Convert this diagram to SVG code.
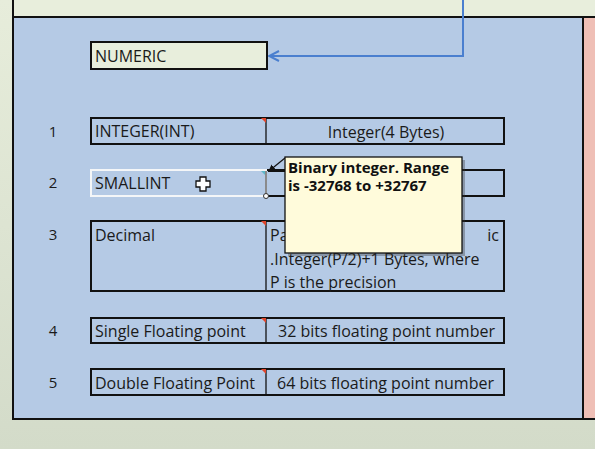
<svg xmlns="http://www.w3.org/2000/svg" width="595" height="449" viewBox="0 0 595 449">
<defs>
<linearGradient id="bg" x1="0" y1="0" x2="0" y2="1">
<stop offset="0" stop-color="#e7eddb"/>
<stop offset="1" stop-color="#d3dbc9"/>
</linearGradient>
<marker id="open" viewBox="0 0 12 12" refX="11" refY="6" markerWidth="12" markerHeight="12" markerUnits="userSpaceOnUse" orient="auto">
<path d="M1,1 L11,6 L1,11" fill="none" stroke="#4a7fcf" stroke-width="2"/>
</marker>
<marker id="tip" viewBox="0 0 8 8" refX="7" refY="4" markerWidth="7" markerHeight="7" markerUnits="userSpaceOnUse" orient="auto">
<path d="M0,0 L8,4 L0,8 Z" fill="#111"/>
</marker>
</defs>
<style>
.t{font-family:"Open Sans","Liberation Sans",sans-serif;font-size:16px;fill:#1a1a1a}
.n{font-family:"Open Sans","Liberation Sans",sans-serif;font-size:15px;fill:#1a1a1a;text-anchor:middle}
.c{font-family:"Open Sans","Liberation Sans",sans-serif;font-size:16px;fill:#1a1a1a;text-anchor:middle}
.b{font-family:"Open Sans","Liberation Sans",sans-serif;font-size:15px;font-weight:bold;fill:#111}
.cell{fill:none;stroke:#111;stroke-width:2}
.div{stroke:#111;stroke-width:1.3}
.flag{fill:#e0452a}
</style>
<rect x="0" y="0" width="595" height="449" fill="url(#bg)"/>
<rect x="13" y="-2" width="584" height="19" fill="#e8eedc" stroke="#111" stroke-width="2"/>
<rect x="13" y="17" width="570" height="402" fill="#b5cae5" stroke="#111" stroke-width="2"/>
<rect x="583" y="17" width="14" height="402" fill="#efbfb6" stroke="#111" stroke-width="2"/>

<g id="numeric">
<rect x="91" y="42" width="176" height="27" fill="#e8eedc" stroke="#111" stroke-width="2"/>
<text class="t" x="95" y="62">NUMERIC</text>
</g>

<g id="connectors">
<path d="M463,0 V56 H269" fill="none" stroke="#4a7fcf" stroke-width="2" marker-end="url(#open)"/>
</g>

<g id="row1">
<text class="n" x="53" y="137">1</text>
<rect class="cell" x="91" y="118" width="413" height="26"/>
<line class="div" x1="266" y1="118" x2="266" y2="144"/>
<path class="flag" d="M261,118 H266 V123 Z"/>
<text class="t" x="95" y="137">INTEGER(INT)</text>
<text class="c" x="386" y="138">Integer(4 Bytes)</text>
</g>

<g id="row2">
<text class="n" x="53" y="188">2</text>
<rect class="cell" x="266" y="170" width="238" height="26"/>
<rect x="91" y="170" width="175" height="26" fill="none" stroke="#f4f6f8" stroke-width="2"/>
<line x1="266" y1="171" x2="266" y2="196" stroke="#444" stroke-width="1.2"/>
<path d="M261,171 H265 V175 Z" fill="#5fb7c9"/>
<circle cx="266" cy="196" r="2.5" fill="#fff" stroke="#333" stroke-width="1"/>
<text class="t" x="95" y="189">SMALLINT</text>
<path d="M200,177 h6 v4 h4 v6 h-4 v4 h-6 v-4 h-4 v-6 h4 Z" fill="#fff" stroke="#111" stroke-width="1.3"/>
</g>

<g id="row3">
<text class="n" x="53" y="240">3</text>
<rect class="cell" x="91" y="221" width="413" height="70"/>
<line class="div" x1="266" y1="221" x2="266" y2="291"/>
<path class="flag" d="M261,221 H266 V226 Z"/>
<text class="t" x="95" y="241">Decimal</text>
<text class="t" x="270" y="241">Pa</text>
<text class="t" x="499" y="241" text-anchor="end">ic</text>
<text class="t" x="270" y="265">.Integer(P/2)+1 Bytes, where</text>
<text class="t" x="270" y="288">P is the precision</text>
</g>

<g id="row4">
<text class="n" x="53" y="336">4</text>
<rect class="cell" x="91" y="318" width="413" height="25"/>
<line class="div" x1="266" y1="318" x2="266" y2="343"/>
<path class="flag" d="M261,318 H266 V323 Z"/>
<text class="t" x="95" y="337">Single Floating point</text>
<text class="t" x="278" y="337">32 bits floating point number</text>
</g>

<g id="row5">
<text class="n" x="53" y="388">5</text>
<rect class="cell" x="91" y="369" width="413" height="26"/>
<line class="div" x1="266" y1="369" x2="266" y2="395"/>
<path class="flag" d="M261,369 H266 V374 Z"/>
<text class="t" x="95" y="389">Double Floating Point</text>
<text class="t" x="277" y="389">64 bits floating point number</text>
</g>

<g id="tooltip">
<rect x="288" y="160" width="177" height="96" fill="#333" opacity="0.35"/>
<line x1="285" y1="158" x2="269" y2="171" stroke="#111" stroke-width="1.2" marker-end="url(#tip)"/>
<line x1="268" y1="171" x2="286" y2="171" stroke="#111" stroke-width="2"/>
<rect x="285" y="157" width="177" height="96" fill="#fffbdb" stroke="#111" stroke-width="1.3"/>
<text class="b" x="288" y="173">Binary integer. Range</text>
<text class="b" x="288" y="191">is -32768 to +32767</text>
</g>
</svg>
